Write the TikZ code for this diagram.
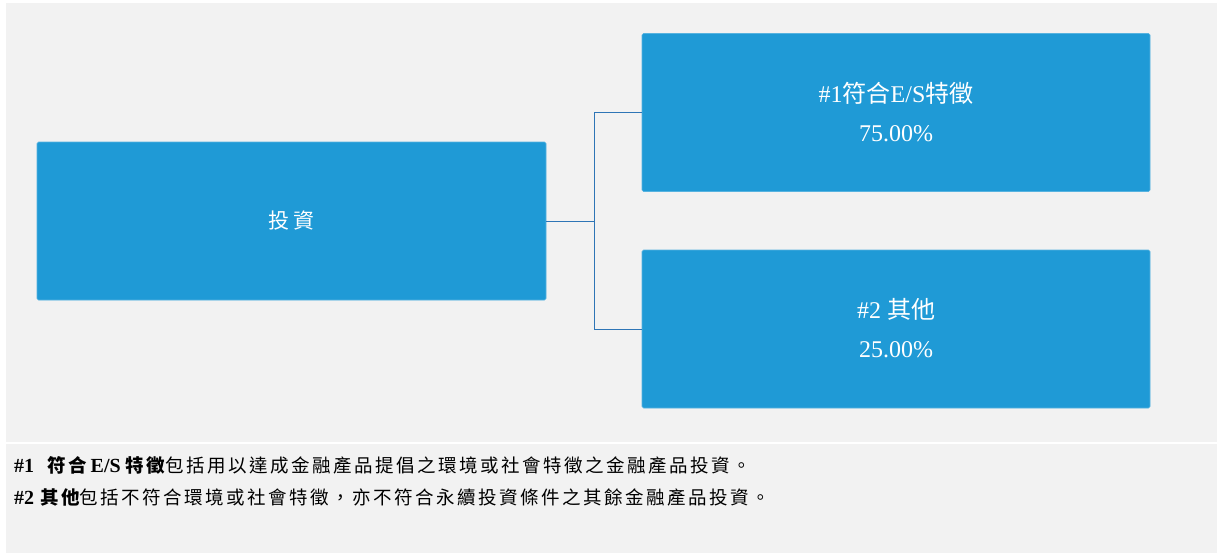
\documentclass[tikz,border=0pt]{standalone}
\usepackage{fontspec}
\setmainfont{Liberation Serif}
\newfontfamily\cjk{Noto Sans CJK TC}
\newfontfamily\cjkls{Noto Sans CJK TC}[LetterSpace=13.5]
\newfontfamily\cjkbox{Noto Sans CJK TC}[LetterSpace=20]
\definecolor{boxblue}{HTML}{1F9AD6}
\definecolor{linkblue}{HTML}{2E75B6}
\definecolor{panel}{HTML}{F2F2F2}
\begin{document}
\begin{tikzpicture}[x=1pt,y=-1pt,
  bluebox/.style={fill=boxblue, draw=boxblue!75!white, line width=0.6pt,
    rounded corners=1.5pt, text=white, align=center, inner sep=0pt,
    minimum width=508pt, minimum height=158pt,
    font=\fontsize{24}{39}\selectfont},
  link/.style={draw=linkblue, line width=1pt},
  note/.style={anchor=west, inner sep=0pt, text=black,
    font=\fontsize{20}{24}\selectfont}]
\useasboundingbox (0,0) rectangle (1223,554);
\fill[white] (0,0) rectangle (1223,554);
\fill[panel] (6,3) rectangle (1217,442);
\fill[panel] (6,444) rectangle (1217,553);

\node[bluebox, minimum width=509pt] (inv) at (291.5,221) {{\cjkbox\fontsize{21}{24}\selectfont 投資}};
\node[bluebox] (es) at (896,112.5) {\raisebox{1.5pt}{\#1{\cjk 符合}E/S{\cjk 特徵}}\\\raisebox{1.5pt}{75.00\%}};
\node[bluebox] (oth) at (896,329) {\raisebox{1.5pt}{\#2\hspace{6pt}{\cjk 其他}}\\\raisebox{1.5pt}{25.00\%}};

\coordinate (fork) at (594,221);
\draw[link] (inv.east) -- (fork);
\draw[link] (fork) |- (es.west);
\draw[link] (fork) |- (oth.west);

\node[note] (n1) at (14,465) {{\bfseries\#1}\hspace{13pt}{\cjkls\bfseries\fontsize{18.5}{24}\selectfont 符合}\hspace{4pt}{\bfseries E/S}\hspace{5pt}{\cjkls\fontsize{18.5}{24}\selectfont{\bfseries 特徵}包括用以達成金融產品提倡之環境或社會特徵之金融產品投資。}};
\node[note] (n2) at (14,497.5) {{\bfseries\#2}\hspace{6pt}{\cjkls\fontsize{18.5}{24}\selectfont{\bfseries 其他}包括不符合環境或社會特徵，亦不符合永續投資條件之其餘金融產品投資。}};
\end{tikzpicture}
\end{document}
